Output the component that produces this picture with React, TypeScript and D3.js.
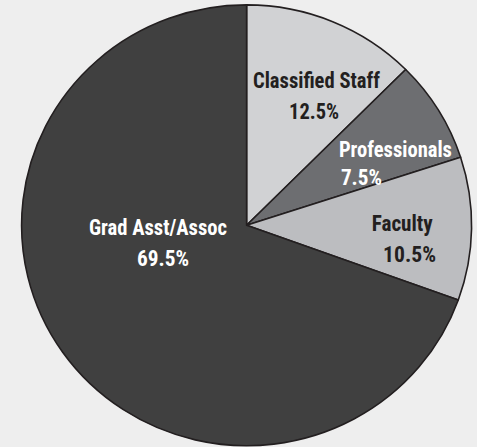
import React from "react";
import * as d3 from "d3";

const categories = ["Classified Staff", "Professionals", "Faculty", "Grad Asst/Assoc"];
const values = [12.5, 7.5, 10.5, 69.5];
const valueLabels = ["12.5%", "7.5%", "10.5%", "69.5%"];

const palette = ["#d1d2d4", "#6d6e71", "#bcbdc0", "#404040"];
const textColors = ["#231f20", "#ffffff", "#231f20", "#ffffff"];

// label layout: anchor in polar coords (deg clockwise from top, radius px),
// line gap, per-line dx, and target widths
const labelLayout = [
  { a: 29.7, r: 140.2, gap: 30.5, dx1: 0.4, dx2: -2, w1: 127, w2: 50 },
  { a: 69.9, r: 158.5, gap: 28, dx1: 0, dx2: -34, w1: 113, w2: 41 },
  { a: 97.8, r: 157.1, gap: 30.5, dx1: 0, dx2: 7.3, w1: 61, w2: 53 },
  { a: 254.1, r: 92.1, gap: 31.5, dx1: 0, dx2: 5.1, w1: 138, w2: 52 },
];

const W = 477;
const H = 447;
const cx = 246.6;
const cy = 225.3;
const rx = 225;
const ry = 220.4;

export default function App() {
  const pie = d3.pie<number>().sort(null).value((d) => d);
  const arcs = pie(values);
  const arcGen = d3.arc<d3.PieArcDatum<number>>().innerRadius(0).outerRadius(ry);
  const font = "'Roboto Condensed', 'Liberation Sans Narrow', Roboto, 'Liberation Sans', Arial, sans-serif";
  const fs = 22.5;
  return (
    <svg width={W} height={H} style={{ position: "absolute", left: 0, top: 0, display: "block" }}>
      <rect x={0} y={0} width={W} height={H} fill="#eeeeee" />
      <g transform={`translate(${cx},${cy}) scale(${rx / ry},1)`}>
        {arcs.map((a, i) => (
          <path
            key={categories[i]}
            d={arcGen(a) || ""}
            fill={palette[i]}
            stroke="#231f20"
            strokeWidth={1.6}
            strokeLinejoin="round"
            vectorEffect="non-scaling-stroke"
          />
        ))}
      </g>
      {categories.map((c, i) => {
        const L = labelLayout[i];
        const t = (L.a * Math.PI) / 180;
        const ax = cx + L.r * Math.sin(t);
        const ay = cy - L.r * Math.cos(t);
        return (
          <g key={c} fill={textColors[i]} fontFamily={font} fontWeight="bold" fontSize={fs} textAnchor="middle">
            <text x={ax + L.dx1} y={ay - L.gap / 2} textLength={L.w1} lengthAdjust="spacingAndGlyphs">
              {c}
            </text>
            <text x={ax + L.dx2} y={ay + L.gap / 2} textLength={L.w2} lengthAdjust="spacingAndGlyphs">
              {valueLabels[i]}
            </text>
          </g>
        );
      })}
    </svg>
  );
}
